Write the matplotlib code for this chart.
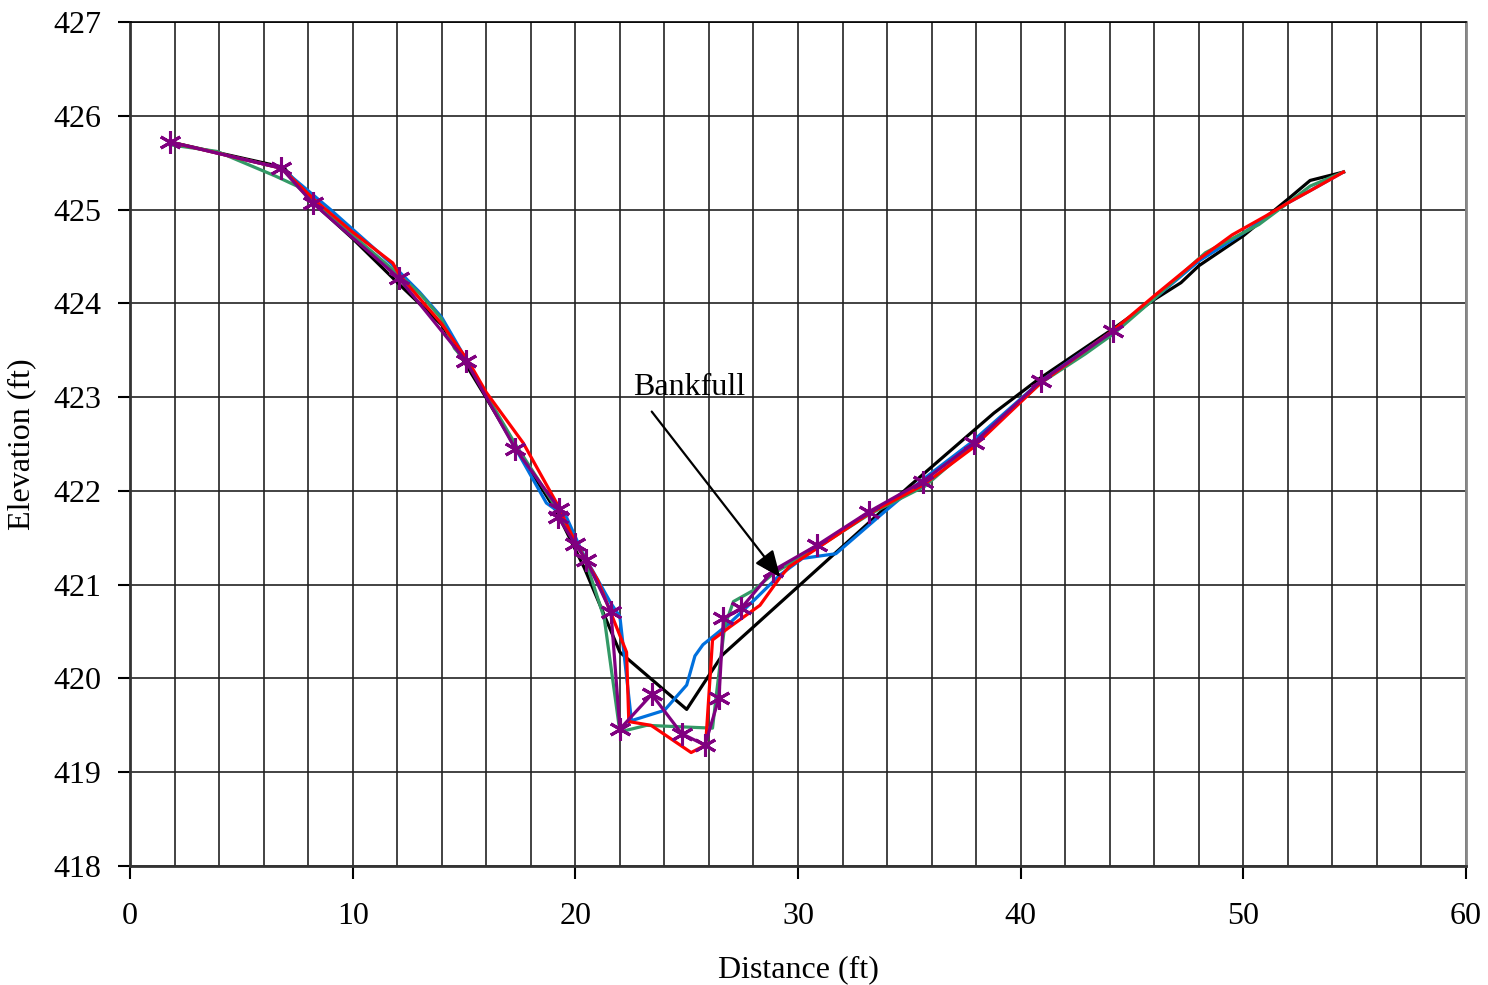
import matplotlib
matplotlib.use("Agg")
import matplotlib.pyplot as plt
from matplotlib.ticker import MultipleLocator

plt.rcParams['font.family'] = ['Liberation Serif', 'DejaVu Serif']

# survey lines (distance ft, elevation ft)
black_x = [1.8, 6.9, 8.1, 10.0, 12.1, 14.0, 16.0, 17.2, 19.2, 20.4, 22.0, 25.0, 26.6,
           35.0, 38.8, 40.8, 44.1, 46.0, 47.2, 48.0, 50.0, 52.0, 53.0, 54.5]
black_y = [425.72, 425.45, 425.1, 424.69, 424.2, 423.77, 422.99, 422.51, 421.76, 421.18, 420.28, 419.67, 420.25,
           422.05, 422.83, 423.19, 423.72, 424.04, 424.22, 424.4, 424.72, 425.11, 425.31, 425.4]

blue_x = [1.8, 6.8, 8.0, 9.0, 11.7, 13.0, 14.0, 15.0, 17.2, 18.7, 19.6, 20.3, 21.6, 22.0, 22.52,
          24.0, 25.0, 25.37, 25.73, 26.93, 28.05, 29.17, 30.2, 31.7, 33.8, 35.6, 37.75, 40.9,
          44.1, 46.0, 48.0, 50.0, 52.0, 54.5]
blue_y = [425.72, 425.44, 425.2, 425.0, 424.43, 424.12, 423.85, 423.44, 422.5, 421.87, 421.72, 421.35, 420.8, 420.66, 419.55,
          419.66, 419.93, 420.24, 420.36, 420.59, 420.84, 421.1, 421.28, 421.33, 421.76, 422.12, 422.51, 423.17,
          423.7, 424.05, 424.45, 424.75, 425.07, 425.4]

green_x = [1.8, 3.9, 6.5, 7.5, 8.5, 12.1, 13.07, 13.97, 14.57, 15.2, 17.3, 19.2, 20.4, 21.3, 22.0,
           23.2, 25.15, 26.16, 26.34, 26.7, 27.1, 28.0, 28.9, 30.9, 33.2, 35.7, 37.9, 40.9,
           42.9, 44.2, 46.0, 48.3, 50.7, 52.0, 53.0, 54.5]
green_y = [425.69, 425.62, 425.36, 425.25, 425.03, 424.3, 424.09, 423.84, 423.52, 423.35, 422.5, 421.8, 421.3, 420.64, 419.43,
           419.5, 419.48, 419.47, 419.84, 420.55, 420.82, 420.94, 421.12, 421.4, 421.75, 422.05, 422.5, 423.15,
           423.46, 423.68, 424.05, 424.54, 424.84, 425.07, 425.25, 425.4]

red_x = [1.8, 6.8, 8.3, 9.94, 11.8, 12.1, 14.0, 15.2, 16.0, 17.66, 19.16, 20.0, 21.0, 22.3, 22.4,
         23.4, 25.2, 25.85, 26.16, 26.94, 28.29, 29.2, 29.6, 31.0, 33.2, 35.6, 37.8, 40.9,
         44.2, 46.0, 48.0, 49.5, 51.0, 52.0, 53.0, 54.5]
red_y = [425.72, 425.44, 425.1, 424.77, 424.43, 424.3, 423.78, 423.38, 423.05, 422.51, 421.87, 421.45, 421.05, 420.28, 419.54,
         419.5, 419.21, 419.29, 420.41, 420.55, 420.78, 421.08, 421.19, 421.41, 421.76, 422.06, 422.45, 423.15,
         423.72, 424.08, 424.47, 424.73, 424.93, 425.07, 425.2, 425.4]

purple_x = [1.8, 6.8, 8.2, 12.07, 15.1, 17.3, 19.27, 19.23, 20.0, 20.5, 21.6, 22.0, 23.43, 24.78,
            25.82, 26.45, 26.65, 27.45, 28.87, 30.85, 33.2, 35.6, 37.9, 40.9, 44.15]
purple_y = [425.72, 425.44, 425.07, 424.27, 423.38, 422.45, 421.81, 421.72, 421.43, 421.26, 420.71, 419.46, 419.83, 419.41,
            419.29, 419.79, 420.64, 420.75, 421.15, 421.42, 421.78, 422.1, 422.51, 423.17, 423.7]

fig = plt.figure(figsize=(14.88, 9.85), dpi=100)
ax = fig.add_axes([0.0874, 0.1208, 0.8978, 0.8569])

lw = 2.3
ax.plot(black_x, black_y, color='black', lw=lw, zorder=3)
ax.plot(blue_x, blue_y, color='#0070DD', lw=lw, zorder=3)
ax.plot(green_x, green_y, color='#339966', lw=lw, zorder=3)
ax.plot(red_x, red_y, color='#FF0000', lw=lw, zorder=3)
ax.plot(purple_x, purple_y, color='#800080', lw=lw, marker=(6, 2, 0),
        markersize=16, markeredgewidth=2.2, zorder=4)

ax.annotate('Bankfull', xy=(29.2, 421.08), xytext=(22.6, 423.1),
            fontsize=23, va='center', ha='left',
            arrowprops=dict(arrowstyle='-|>,head_length=0.7,head_width=0.3',
                            color='black', lw=1.6, shrinkA=6, shrinkB=0,
                            relpos=(0.1, 0.0)),
            zorder=5)

ax.set_xlim(0, 60)
ax.set_ylim(418, 427)
ax.xaxis.set_major_locator(MultipleLocator(10))
ax.xaxis.set_minor_locator(MultipleLocator(2))
ax.yaxis.set_major_locator(MultipleLocator(1))
ax.grid(True, which='both', axis='x', color='#222222', lw=1.2, zorder=1)
ax.grid(True, which='major', axis='y', color='#222222', lw=1.2, zorder=1)
ax.tick_params(which='major', direction='out', length=9, width=1.5, labelsize=23)
ax.tick_params(axis='x', pad=17)
ax.tick_params(axis='y', pad=12)
ax.tick_params(which='minor', length=0)

for side in ['left', 'bottom']:
    ax.spines[side].set_linewidth(2)
    ax.spines[side].set_color('#333333')
ax.spines['top'].set_linewidth(1.2)
ax.spines['right'].set_color('#888888')
ax.spines['right'].set_linewidth(2)

ax.set_xlabel('Distance (ft)', fontsize=23, labelpad=17)
ax.set_ylabel('Elevation (ft)', fontsize=23, labelpad=12)

fig.savefig('out.png', dpi=100)
